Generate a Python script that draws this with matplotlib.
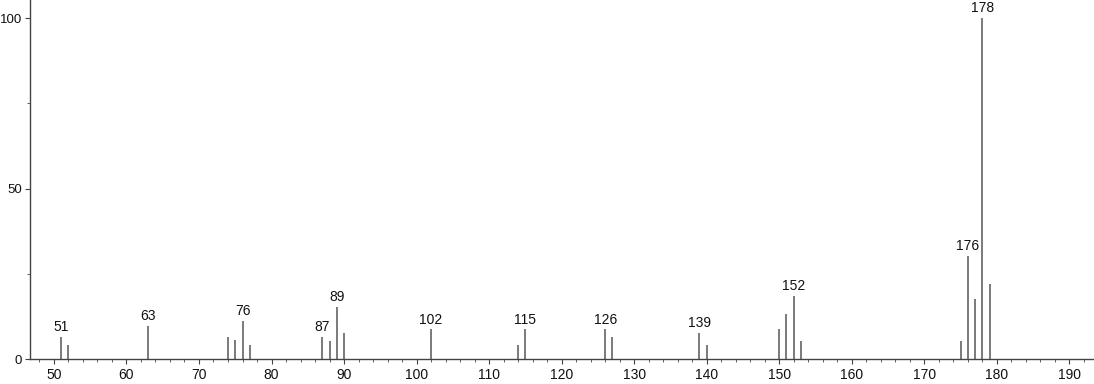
import matplotlib
matplotlib.use("Agg")
import matplotlib.pyplot as plt
from matplotlib.ticker import MultipleLocator

plt.rcParams['font.family'] = ['Liberation Sans', 'DejaVu Sans']

mz = [51, 52, 63, 74, 75, 76, 77, 87, 88, 89, 90, 102, 114, 115, 126, 127,
      139, 140, 150, 151, 152, 153, 175, 176, 177, 178, 179]
intensity = [6.4, 4.1, 9.7, 6.4, 5.5, 11.1, 4.1, 6.4, 5.3, 15.3, 7.5, 8.7, 4.1, 8.7, 8.7, 6.4,
             7.7, 4.1, 8.8, 13.2, 18.6, 5.3, 5.3, 30.2, 17.6, 100.0, 21.9]
labeled = [51, 63, 76, 87, 89, 102, 115, 126, 139, 152, 176, 178]

fig = plt.figure(figsize=(10.94, 3.84), dpi=100)
ax = fig.add_axes([30/1094, 25/384, 1 - 30/1094, 1 - 25/384])

line_color = '#707070'
ax.vlines(mz, 0, intensity, colors=line_color, linewidth=1.3)
for m, v in zip(mz, intensity):
    if m in labeled:
        ax.annotate(str(m), (m, v), xytext=(0, 2), textcoords='offset points',
                    ha='center', va='bottom', fontsize=10, color='#111111')

ax.set_xlim(46.7, 193.4)
ax.set_ylim(0, 105.3)
ax.xaxis.set_major_locator(MultipleLocator(10))
ax.xaxis.set_minor_locator(MultipleLocator(2))
ax.set_yticks([0, 50, 100])
ax.yaxis.set_minor_locator(MultipleLocator(25))
for s in ['top', 'right']:
    ax.spines[s].set_visible(False)
for s in ['left', 'bottom']:
    ax.spines[s].set_color('#444444')
    ax.spines[s].set_linewidth(1.0)
ax.tick_params(axis='x', which='major', direction='out', length=3.5, color='#444444',
               labelsize=10, labelcolor='#111111', pad=3)
ax.tick_params(axis='y', which='major', direction='out', length=3.6, color='#444444',
               labelsize=9.5, labelcolor='#111111', pad=2)
ax.tick_params(axis='both', which='minor', direction='out', length=2, color='#444444')

fig.savefig('out.png', dpi=100)
